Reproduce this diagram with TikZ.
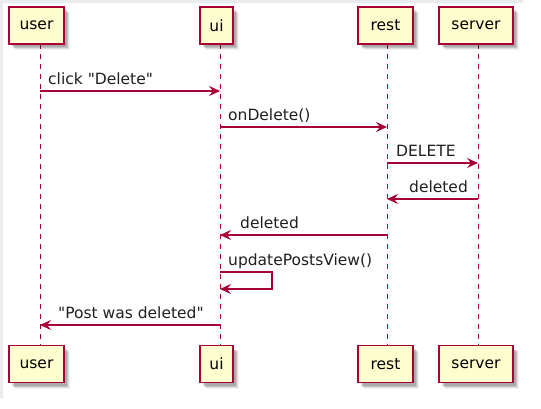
\documentclass[tikz,border=0pt]{standalone}
\usepackage{fontspec}
\setmainfont{DejaVu Sans}
\usetikzlibrary{arrows.meta,shadows}
\definecolor{plred}{HTML}{A80036}
\definecolor{plfill}{HTML}{FEFECE}
\definecolor{frameg}{HTML}{E9EBEE}
\tikzset{
  part/.style={draw=plred, fill=plfill, line width=1.2pt, inner sep=0pt,
    minimum height=37pt, font=\fontsize{15.5}{18}\selectfont,
    general shadow={fill=black, opacity=0.05, shadow xshift=6pt, shadow yshift=-6pt},
    general shadow={fill=black, opacity=0.08, shadow xshift=5pt, shadow yshift=-5pt},
    general shadow={fill=black, opacity=0.12, shadow xshift=4pt, shadow yshift=-4pt},
    general shadow={fill=black, opacity=0.12, shadow xshift=3pt, shadow yshift=-3pt}},
  life/.style={draw=plred, line width=1pt, dash pattern=on 5pt off 5pt},
  msg/.style={draw=plred, line width=1.2pt, -{Stealth[length=11pt,width=10pt,inset=4pt]}},
  lbl/.style={anchor=base west, inner sep=0pt, text=black!88, font=\fontsize{15.5}{18}\selectfont}
}
\begin{document}
\begin{tikzpicture}[x=1pt,y=-1pt]
\useasboundingbox (0,0) rectangle (541,408);
\fill[white] (0,0) rectangle (541,408);
\fill[frameg] (0,0) rectangle (523,2.5);
\fill[frameg] (0,0) rectangle (3,398);

% lifeline anchor coordinates
\coordinate (uA) at (40,44);   \coordinate (uB) at (40,345);
\coordinate (iA) at (220,44);  \coordinate (iB) at (220,345);
\coordinate (rA) at (387,44);  \coordinate (rB) at (387,345);
\coordinate (sA) at (478,44);  \coordinate (sB) at (478,345);

\draw[life] (uA) -- (uB);
\draw[life] (iA) -- (iB);
\draw[life] (rA) -- (rB);
\draw[life] (sA) -- (sB);

% participants top
\node[part, minimum width=55pt] (userT) at (36.5,25.5) {user};
\node[part, minimum width=33pt] (uiT) at (216.5,25.5) {ui};
\node[part, minimum width=55pt] (restT) at (385.5,25.5) {rest};
\node[part, minimum width=74pt] (serverT) at (476,25.5) {server};
% participants bottom
\node[part, minimum width=55pt] (userB) at (36.5,364) {user};
\node[part, minimum width=33pt] (uiB) at (216.5,364) {ui};
\node[part, minimum width=55pt] (restB) at (385.5,364) {rest};
\node[part, minimum width=74pt] (serverB) at (476,364) {server};

% messages
\coordinate (m1s) at (40,91);   \coordinate (m1e) at (220,91);
\draw[msg] (m1s) -- (m1e);
\node[lbl] (l1) at (48,84.5) {click \textquotedbl Delete\textquotedbl};

\coordinate (m2s) at (220,127); \coordinate (m2e) at (387,127);
\draw[msg] (m2s) -- (m2e);
\node[lbl] (l2) at (228,120.5) {onDelete()};

\coordinate (m3s) at (387,163); \coordinate (m3e) at (478,163);
\draw[msg] (m3s) -- (m3e);
\node[lbl] (l3) at (396,156.5) {DELETE};

\coordinate (m4s) at (478,199); \coordinate (m4e) at (387,199);
\draw[msg] (m4s) -- (m4e);
\node[lbl] (l4) at (409,192.5) {deleted};

\coordinate (m5s) at (387,235); \coordinate (m5e) at (220,235);
\draw[msg] (m5s) -- (m5e);
\node[lbl] (l5) at (240,228.5) {deleted};

\coordinate (m6s) at (220,272); \coordinate (m6e) at (220,289);
\draw[msg] (m6s) -- (272,272) -- (272,289) -- (m6e);
\node[lbl] (l6) at (228,265.5) {updatePostsView()};

\coordinate (m7s) at (220,325); \coordinate (m7e) at (40,325);
\draw[msg] (m7s) -- (m7e);
\node[lbl] (l7) at (58,318.5) {\textquotedbl Post was deleted\textquotedbl};
\end{tikzpicture}
\end{document}
